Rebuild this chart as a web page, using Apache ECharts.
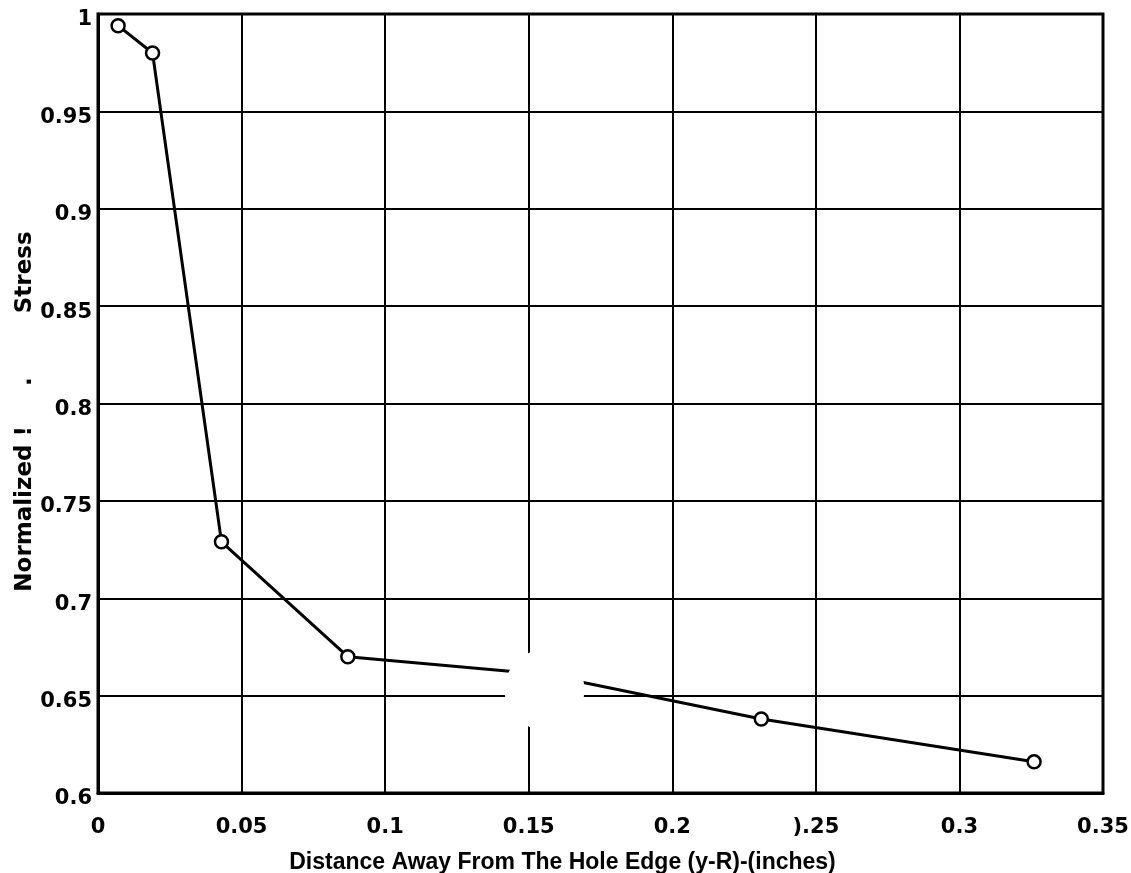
<!DOCTYPE html>
<html>
<head>
<meta charset="utf-8">
<script src="https://cdn.jsdelivr.net/npm/echarts@6/dist/echarts.min.js"></script>
<style>
  html, body { margin: 0; padding: 0; background: #fff; }
  #chart { width: 1131px; height: 873px; }
</style>
</head>
<body>
<div id="chart"></div>
<script>
// Distance from the hole edge (inches) and the normalized stress there
const distance = [0.007, 0.019, 0.043, 0.087, 0.155, 0.231, 0.326];
const stress   = [0.994, 0.980, 0.729, 0.670, 0.661, 0.638, 0.616];

// Axis tick labels as printed
const xTickLabels = ['0', '0.05', '0.1', '0.15', '0.2', ').25', '0.3', '0.35'];
const yTickLabels = ['0.6', '0.65', '0.7', '0.75', '0.8', '0.85', '0.9', '0.95', '1'];

const xTitle = 'Distance Away From The Hole Edge (y-R)-(inches)';
const yTitle = 'Normalized !     .        Stress';

const FONT = '"DejaVu Sans", "Liberation Sans", Arial, sans-serif';
const FONT_NARROW = '"Liberation Sans", Arial, sans-serif';

const chart = echarts.init(document.getElementById('chart'), null, { renderer: 'canvas' });

const tickIndex = (v, step, min) => Math.round((v - min) / step);

chart.setOption({
  animation: false,
  backgroundColor: '#ffffff',
  grid: {
    left: 98, right: 28, top: 14, bottom: 80,
    containLabel: false,
    outerBoundsMode: 'none',
    show: true, borderColor: '#000', borderWidth: 3, backgroundColor: 'transparent'
  },
  xAxis: {
    type: 'value',
    min: 0, max: 0.35, interval: 0.05,
    axisLine: { show: true, onZero: false, lineStyle: { color: '#000', width: 3 } },
    axisTick: { show: false },
    splitLine: { show: true, lineStyle: { color: '#000', width: 2 } },
    axisLabel: {
      color: '#000', fontFamily: FONT, fontWeight: 'bold', fontSize: 21, margin: 24,
      formatter: v => xTickLabels[tickIndex(v, 0.05, 0)] ?? ''
    },
    name: xTitle,
    nameLocation: 'middle',
    nameGap: 58,
    nameTextStyle: {
      color: '#000', fontFamily: FONT_NARROW, fontWeight: 'bold', fontSize: 23,
      padding: [0, 76, 0, 0]
    }
  },
  yAxis: {
    type: 'value',
    min: 0.6, max: 1, interval: 0.05,
    axisLine: { show: true, onZero: false, lineStyle: { color: '#000', width: 3 } },
    axisTick: { show: false },
    splitLine: { show: true, lineStyle: { color: '#000', width: 2 } },
    axisLabel: {
      color: '#000', fontFamily: FONT, fontWeight: 'bold', fontSize: 21, margin: 6,
      verticalAlign: 'top', lineHeight: 12,
      formatter: v => yTickLabels[tickIndex(v, 0.05, 0.6)] ?? ''
    },
    name: yTitle,
    nameLocation: 'middle',
    nameGap: 61,
    nameMoveOverlap: false,
    nameRotate: 90,
    nameTextStyle: {
      color: '#000', fontFamily: FONT, fontWeight: 'bold', fontSize: 23,
      padding: [0, 16, 0, 0]
    }
  },
  series: [{
    type: 'line',
    data: distance.map((d, i) => [d, stress[i]]),
    symbol: 'circle',
    symbolSize: 13,
    lineStyle: { color: '#000', width: 3 },
    itemStyle: { color: '#fff', borderColor: '#000', borderWidth: 2.5 },
    z: 5
  }]
});

// Worn patch of the printed sheet near x = 0.155, where the trace and grid are lost
const patchCenter = chart.convertToPixel({ gridIndex: 0 }, [0.1555, 0.6530]);
chart.setOption({
  graphic: [{
    type: 'circle',
    shape: { cx: patchCenter[0], cy: patchCenter[1], r: 40 },
    style: { fill: '#fff' },
    z: 100
  }]
});
</script>
</body>
</html>
